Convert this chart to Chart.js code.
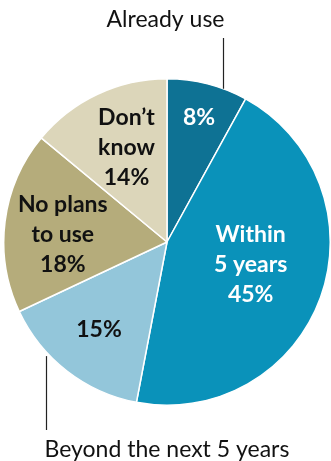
<!DOCTYPE html>
<html>
<head>
<meta charset="utf-8">
<script src="https://cdn.jsdelivr.net/npm/chart.js@4.4.1/dist/chart.umd.min.js"></script>
<style>
  html, body { margin: 0; padding: 0; background: #fff; }
  #chart_1 { display: block; }
</style>
</head>
<body>
<canvas id="chart_1" width="331" height="461"></canvas>
<script>
// survey answers, clockwise from 12 o'clock
const categories = ['Already use', 'Within 5 years', 'Beyond the next 5 years', 'No plans to use', 'Don\u2019t know'];
const shares = [8, 45, 15, 18, 14];
const sliceLabels = [
    ['8%'],
    ['Within', '5 years', '45%'],
    ['15%'],
    ['No plans', 'to use', '18%'],
    ['Don\u2019t', 'know', '14%']
];

const sliceColors = ['#0e7294', '#0a92ba', '#93c6da', '#b5ac7b', '#dcd6ba'];
const labelColors = ['#fff', '#fff', '#111', '#111', '#111'];
// where the inside labels sit: fraction of radius, angle nudge (deg)
const labelPlace = [[0.79, 0], [0.53, -5], [0.68, 0], [0.64, -3], [0.63, 2]];

const FONT = 'Lato, "Open Sans", sans-serif';

const pieLabels = {
    id: 'pieLabels',
    afterDatasetsDraw(chart) {
        const ctx = chart.ctx;
        const arcs = chart.getDatasetMeta(0).data;
        ctx.save();
        ctx.textAlign = 'center';
        ctx.textBaseline = 'middle';
        ctx.font = 'bold 23px ' + FONT;
        arcs.forEach((arc, i) => {
            const p = arc.getProps(['x', 'y', 'startAngle', 'endAngle', 'outerRadius'], true);
            const mid = (p.startAngle + p.endAngle) / 2 + labelPlace[i][1] * Math.PI / 180;
            const r = p.outerRadius * labelPlace[i][0];
            const cx = p.x + Math.cos(mid) * r;
            const cy = p.y + Math.sin(mid) * r;
            const lines = sliceLabels[i];
            const lh = 30;
            ctx.fillStyle = labelColors[i];
            lines.forEach((t, j) => {
                ctx.fillText(t, cx, cy + (j - (lines.length - 1) / 2) * lh);
            });
        });

        // callouts for the two outer labels
        const callout = (i, frac) => {
            const p = arcs[i].getProps(['x', 'y', 'startAngle', 'endAngle', 'outerRadius'], true);
            const a = p.startAngle + (p.endAngle - p.startAngle) * frac;
            return { x: p.x + Math.cos(a) * p.outerRadius, y: p.y + Math.sin(a) * p.outerRadius };
        };
        ctx.strokeStyle = '#222';
        ctx.lineWidth = 1.2;
        ctx.fillStyle = '#111';
        ctx.font = '23px ' + FONT;
        ctx.textBaseline = 'alphabetic';

        const top = callout(0, 0.7);
        const tx = Math.round(top.x) + 0.5;
        ctx.beginPath();
        ctx.moveTo(tx, 38);
        ctx.lineTo(tx, top.y);
        ctx.stroke();
        ctx.textAlign = 'right';
        ctx.fillText(categories[0], tx + 1, 27);

        const bot = callout(2, 0.69);
        const bx = Math.round(bot.x) + 0.5;
        ctx.beginPath();
        ctx.moveTo(bx, bot.y + 5);
        ctx.lineTo(bx, 430);
        ctx.stroke();
        ctx.textAlign = 'left';
        ctx.fillText(categories[2], bx - 2, 457);
        ctx.restore();
    }
};

new Chart(document.getElementById('chart_1'), {
    type: 'pie',
    data: {
        labels: categories,
        datasets: [{
            data: shares,
            backgroundColor: sliceColors,
            borderColor: '#fff',
            borderWidth: 1.5
        }]
    },
    options: {
        responsive: false,
        animation: false,
        layout: { padding: { left: 3, right: 0, top: 78, bottom: 55 } },
        plugins: {
            legend: { display: false },
            tooltip: { enabled: false }
        }
    },
    plugins: [pieLabels]
});
</script>
</body>
</html>
